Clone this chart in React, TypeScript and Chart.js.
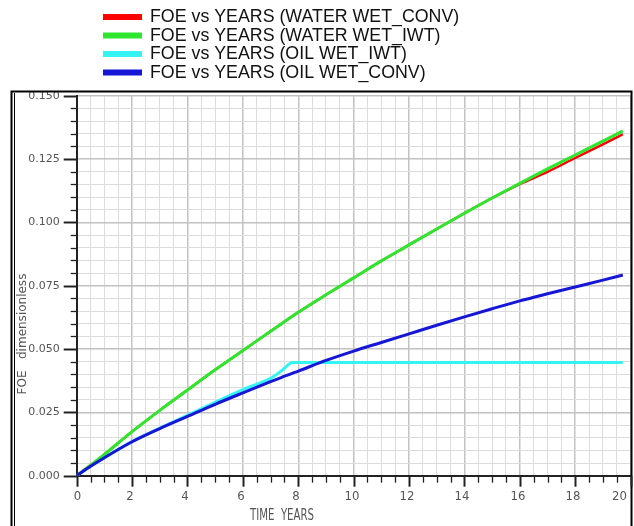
import React, { useEffect, useRef } from 'react';
import { Chart, registerables } from 'chart.js';

Chart.register(...registerables);

// Time in years (x values shared by all series)
const years = [0, 0.5, 1, 2, 3, 4, 5, 6, 7, 7.4, 7.8, 8, 9, 10, 11, 12, 13, 14, 15, 16, 17, 18, 19, 19.72];

// FOE (dimensionless) per series
const foeWaterWetConv = [0, 0.0041, 0.0084, 0.0174, 0.0258, 0.0338, 0.0418, 0.0494, 0.057, 0.06, 0.063, 0.0645, 0.0714, 0.0781, 0.0848, 0.0911, 0.0974, 0.1036, 0.1096, 0.1151, 0.1199, 0.1254, 0.1308, 0.1348];
const foeWaterWetIwt = [0, 0.0041, 0.0084, 0.0174, 0.0258, 0.0338, 0.0418, 0.0494, 0.057, 0.06, 0.063, 0.0645, 0.0714, 0.0781, 0.0848, 0.0911, 0.0974, 0.1036, 0.1096, 0.1154, 0.1211, 0.1266, 0.1321, 0.1361];
const foeOilWetIwt = [0, 0.0037, 0.0071, 0.0135, 0.0188, 0.0238, 0.029, 0.034, 0.0384, 0.0414, 0.0447, 0.0447, 0.0447, 0.0447, 0.0447, 0.0447, 0.0447, 0.0447, 0.0447, 0.0447, 0.0447, 0.0447, 0.0447, 0.0447];
const foeOilWetConv = [0, 0.0037, 0.0071, 0.0134, 0.0186, 0.0234, 0.0282, 0.0327, 0.0371, 0.0388, 0.0405, 0.0413, 0.0455, 0.0492, 0.0526, 0.056, 0.0594, 0.0627, 0.0659, 0.069, 0.0718, 0.0745, 0.0772, 0.0792];

const seriesNames = [
  'FOE vs YEARS (WATER WET_CONV)',
  'FOE vs YEARS (WATER WET_IWT)',
  'FOE vs YEARS (OIL WET_IWT)',
  'FOE vs YEARS (OIL WET_CONV)',
];
const seriesValues = [foeWaterWetConv, foeWaterWetIwt, foeOilWetIwt, foeOilWetConv];
const seriesColors = ['#ff0000', '#2fe62f', '#33f3f3', '#1616d6'];
const seriesWidths = [2.4, 3, 3, 3];
const seriesOrder = [3, 1, 2, 0];

const xTitle = 'TIME  YEARS';
const yTitle = 'FOE   dimensionless';
const xMin = 0, xMax = 20, xMinorStep = 0.5, xMajorEvery = 4;
const yMin = 0, yMax = 0.15, yMinorStep = 0.005, yMajorEvery = 5;

const decorPlugin = {
  id: 'decor',
  afterDraw(chart: any) {
    const ctx = chart.ctx as CanvasRenderingContext2D;
    const xs = chart.scales.x;
    const ys = chart.scales.y;
    const area = chart.chartArea;
    ctx.save();
    // Frame
    ctx.strokeStyle = '#000';
    ctx.lineWidth = 2;
    ctx.beginPath();
    ctx.moveTo(11.5, 540);
    ctx.lineTo(11.5, 91.5);
    ctx.lineTo(631.5, 91.5);
    ctx.lineTo(631.5, 540);
    ctx.stroke();
    ctx.lineWidth = 1;
    ctx.beginPath();
    ctx.moveTo(14.5, 540);
    ctx.lineTo(14.5, 93);
    ctx.stroke();

    // Tick marks
    ctx.strokeStyle = '#222';
    const nY = Math.round((yMax - yMin) / yMinorStep);
    for (let i = 0; i <= nY; i++) {
      const v = yMin + i * yMinorStep;
      const py = Math.round(ys.getPixelForValue(v)) + 0.5;
      const len = i % yMajorEvery === 0 ? 13 : 6;
      ctx.lineWidth = i % yMajorEvery === 0 ? 2 : 1.3;
      ctx.beginPath();
      ctx.moveTo(area.left - len, py);
      ctx.lineTo(area.left, py);
      ctx.stroke();
    }
    const nX = Math.round((xMax - xMin) / xMinorStep);
    ctx.fillStyle = '#555';
    ctx.textAlign = 'center';
    ctx.textBaseline = 'top';
    ctx.font = '13px "Liberation Sans Narrow", "DejaVu Sans Condensed", "Liberation Sans", sans-serif';
    for (let i = 0; i <= nX; i++) {
      const v = xMin + i * xMinorStep;
      const px = Math.round(xs.getPixelForValue(v)) + 0.5;
      const major = i % xMajorEvery === 0;
      const len = major ? 11 : 7;
      ctx.lineWidth = major ? 2 : 1.3;
      ctx.beginPath();
      ctx.moveTo(px, area.bottom);
      ctx.lineTo(px, area.bottom + len);
      ctx.stroke();
      if (major) {
        const label = String(Math.round(v));
        const tw = ctx.measureText(label).width;
        let cx = px - 2.5;
        if (cx + tw / 2 > 627) cx = 627 - tw / 2;
        if (cx - tw / 2 < area.left - 3) cx = area.left - 3 + tw / 2;
        ctx.fillText(label, cx, area.bottom + 14);
      }
    }

    // Axis titles
    ctx.textBaseline = 'middle';
    ctx.font = '15px "Liberation Sans Narrow", "DejaVu Sans Condensed", "Liberation Sans", sans-serif';
    const w = ctx.measureText(xTitle).width;
    const sx = 64 / w;
    ctx.save();
    ctx.translate(282, 516);
    ctx.scale(sx, 1);
    ctx.fillText(xTitle, 0, 0);
    ctx.restore();

    ctx.font = '12px "DejaVu Sans", sans-serif';
    ctx.save();
    ctx.translate(23, 334);
    ctx.rotate(-Math.PI / 2);
    ctx.fillText(yTitle, 0, 0);
    ctx.restore();

    // Legend
    ctx.textAlign = 'left';
    ctx.font = '17.8px "Liberation Sans", Arial, sans-serif';
    for (let i = 0; i < seriesNames.length; i++) {
      const y = 17 + i * 18.5;
      ctx.strokeStyle = seriesColors[i];
      ctx.lineWidth = 6;
      ctx.beginPath();
      ctx.moveTo(103, y);
      ctx.lineTo(142, y);
      ctx.stroke();
      ctx.fillStyle = '#111';
      ctx.fillText(seriesNames[i], 150, y + 0.5);
    }
    ctx.restore();
  },
};

export default function App() {
  const canvasRef = useRef<HTMLCanvasElement | null>(null);

  useEffect(() => {
    document.body.style.margin = '0';
    const canvas = canvasRef.current;
    if (!canvas) return;
    const isMajor = (v: number, step: number, every: number) => Math.round(v / step) % every === 0;
    const chart = new Chart(canvas, {
      type: 'line',
      data: {
        datasets: seriesNames.map((name, i) => ({
          label: name,
          data: years.map((x, j) => ({ x, y: seriesValues[i][j] })),
          borderColor: seriesColors[i],
          backgroundColor: seriesColors[i],
          borderWidth: seriesWidths[i],
          pointRadius: 0,
          fill: false,
          order: seriesOrder[i],
          cubicInterpolationMode: 'monotone' as const,
        })),
      },
      options: {
        animation: false,
        responsive: false,
        events: [],
        layout: { padding: { top: 95.7, right: 3.4, left: 0, bottom: 0 } },
        plugins: { legend: { display: false }, tooltip: { enabled: false } },
        scales: {
          x: {
            type: 'linear',
            min: xMin,
            max: xMax,
            afterFit: (s: any) => { s.height = 50.3; },
            border: { display: true, color: '#222', width: 2 },
            grid: {
              drawTicks: false,
              color: (c: any) => (isMajor(c.tick.value, xMinorStep, xMajorEvery) ? '#c2c2c2' : '#dcdcdc'),
              lineWidth: (c: any) => (isMajor(c.tick.value, xMinorStep, xMajorEvery) ? 1.5 : 1),
            },
            ticks: {
              display: false,
              stepSize: xMinorStep,
              autoSkip: false,
              maxRotation: 0,
            },
          },
          y: {
            type: 'linear',
            min: yMin,
            max: yMax,
            afterFit: (s: any) => { s.width = 76.7; },
            border: { display: true, color: '#222', width: 2 },
            grid: {
              drawTicks: false,
              color: (c: any) => (isMajor(c.tick.value, yMinorStep, yMajorEvery) ? '#c2c2c2' : '#dcdcdc'),
              lineWidth: (c: any) => (isMajor(c.tick.value, yMinorStep, yMajorEvery) ? 1.5 : 1),
            },
            ticks: {
              stepSize: yMinorStep,
              autoSkip: false,
              padding: 17,
              color: '#555',
              font: { family: '"DejaVu Sans", sans-serif', size: 11 },
              callback: (v: any) => (isMajor(Number(v), yMinorStep, yMajorEvery) ? Number(v).toFixed(3) : ''),
            },
          },
        },
      },
      plugins: [decorPlugin],
    } as any);
    return () => chart.destroy();
  }, []);

  return (
    <div style={{ width: 634, height: 526, position: 'relative', background: '#fff' }}>
      <canvas ref={canvasRef} width={634} height={526} style={{ display: 'block', width: 634, height: 526 }} />
    </div>
  );
}
